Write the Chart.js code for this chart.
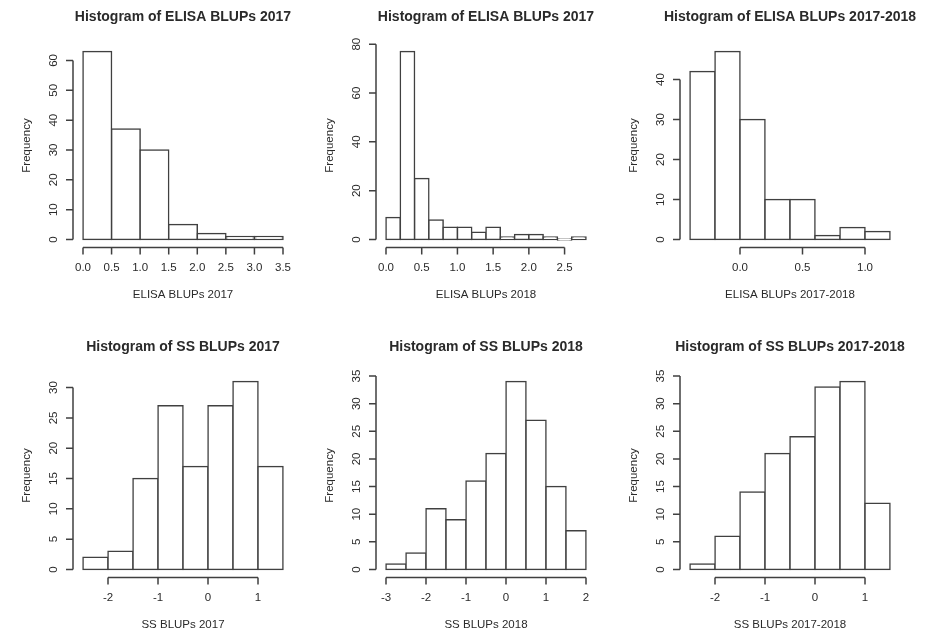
<!DOCTYPE html>
<html>
<head>
<meta charset="utf-8">
<script src="https://cdn.jsdelivr.net/npm/chart.js@4/dist/chart.umd.min.js"></script>
<style>
  body { margin: 0; background: #fff; overflow: hidden; }
  #wrap { position: relative; width: 927px; height: 634px; overflow: hidden; }
  #wrap canvas { position: absolute; }
</style>
</head>
<body>
<div id="wrap"></div>
<script>
// histogram bins (breaks) and counts
const elisa2017Breaks = [0, 0.5, 1, 1.5, 2, 2.5, 3, 3.5];
const elisa2017Counts = [63, 37, 30, 5, 2, 1, 1];
const elisa2017XTicks = ['0.0', '0.5', '1.0', '1.5', '2.0', '2.5', '3.0', '3.5'];
const elisa2017YTicks = ['0', '10', '20', '30', '40', '50', '60'];

const elisa2018Breaks = [0, 0.2, 0.4, 0.6, 0.8, 1, 1.2, 1.4, 1.6, 1.8, 2, 2.2, 2.4, 2.6, 2.8];
const elisa2018Counts = [9, 77, 25, 8, 5, 5, 3, 5, 1, 2, 2, 1, 0, 1];
const elisa2018XTicks = ['0.0', '0.5', '1.0', '1.5', '2.0', '2.5'];
const elisa2018YTicks = ['0', '20', '40', '60', '80'];

const elisaBothBreaks = [-0.4, -0.2, 0, 0.2, 0.4, 0.6, 0.8, 1, 1.2];
const elisaBothCounts = [42, 47, 30, 10, 10, 1, 3, 2];
const elisaBothXTicks = ['0.0', '0.5', '1.0'];
const elisaBothYTicks = ['0', '10', '20', '30', '40'];

const ss2017Breaks = [-2.5, -2, -1.5, -1, -0.5, 0, 0.5, 1, 1.5];
const ss2017Counts = [2, 3, 15, 27, 17, 27, 31, 17];
const ss2017XTicks = ['-2', '-1', '0', '1'];
const ss2017YTicks = ['0', '5', '10', '15', '20', '25', '30'];

const ss2018Breaks = [-3, -2.5, -2, -1.5, -1, -0.5, 0, 0.5, 1, 1.5, 2];
const ss2018Counts = [1, 3, 11, 9, 16, 21, 34, 27, 15, 7];
const ss2018XTicks = ['-3', '-2', '-1', '0', '1', '2'];
const ss2018YTicks = ['0', '5', '10', '15', '20', '25', '30', '35'];

const ssBothBreaks = [-2.5, -2, -1.5, -1, -0.5, 0, 0.5, 1, 1.5];
const ssBothCounts = [1, 6, 14, 21, 24, 33, 34, 12];
const ssBothXTicks = ['-2', '-1', '0', '1'];
const ssBothYTicks = ['0', '5', '10', '15', '20', '25', '30', '35'];

const panels = [
  { title: 'Histogram of ELISA BLUPs 2017', xlab: 'ELISA BLUPs 2017', breaks: elisa2017Breaks, counts: elisa2017Counts, xTicks: elisa2017XTicks, yTicks: elisa2017YTicks, left: 75, top: 44 },
  { title: 'Histogram of ELISA BLUPs 2017', xlab: 'ELISA BLUPs 2018', breaks: elisa2018Breaks, counts: elisa2018Counts, xTicks: elisa2018XTicks, yTicks: elisa2018YTicks, left: 378, top: 44 },
  { title: 'Histogram of ELISA BLUPs 2017-2018', xlab: 'ELISA BLUPs 2017-2018', breaks: elisaBothBreaks, counts: elisaBothCounts, xTicks: elisaBothXTicks, yTicks: elisaBothYTicks, left: 682, top: 44 },
  { title: 'Histogram of SS BLUPs 2017', xlab: 'SS BLUPs 2017', breaks: ss2017Breaks, counts: ss2017Counts, xTicks: ss2017XTicks, yTicks: ss2017YTicks, left: 75, top: 374 },
  { title: 'Histogram of SS BLUPs 2018', xlab: 'SS BLUPs 2018', breaks: ss2018Breaks, counts: ss2018Counts, xTicks: ss2018XTicks, yTicks: ss2018YTicks, left: 378, top: 374 },
  { title: 'Histogram of SS BLUPs 2017-2018', xlab: 'SS BLUPs 2017-2018', breaks: ssBothBreaks, counts: ssBothCounts, xTicks: ssBothXTicks, yTicks: ssBothYTicks, left: 682, top: 374 }
];

const PLOT_W = 216, PLOT_H = 203;
const PAD = { left: 75, right: 45, top: 44, bottom: 70 };
const FONT = '"Liberation Sans", Arial, sans-serif';
const INK = '#404040';

// base-graphics style axes: line only spans the tick range, ticks point outward
const rAxes = {
  id: 'rAxes',
  afterDraw(chart, args, opts) {
    const { ctx, chartArea: a, scales: { x, y } } = chart;
    ctx.save();
    ctx.strokeStyle = INK;
    ctx.fillStyle = '#2a2a2a';
    ctx.lineWidth = 1.5;

    const by = a.bottom + 0.5;
    const xs = opts.xTicks.map(t => x.getPixelForValue(parseFloat(t)));
    ctx.beginPath();
    ctx.moveTo(xs[0], by);
    ctx.lineTo(xs[xs.length - 1], by);
    xs.forEach(px => { ctx.moveTo(px, by); ctx.lineTo(px, by + 7); });
    ctx.stroke();

    const lx = a.left - 2;
    const ys = opts.yTicks.map(t => y.getPixelForValue(parseFloat(t)));
    ctx.beginPath();
    ctx.moveTo(lx, ys[0]);
    ctx.lineTo(lx, ys[ys.length - 1]);
    ys.forEach(py => { ctx.moveTo(lx, py); ctx.lineTo(lx - 7, py); });
    ctx.stroke();

    ctx.font = '11.5px ' + FONT;
    ctx.textAlign = 'center';
    ctx.textBaseline = 'middle';
    opts.xTicks.forEach((t, i) => ctx.fillText(t, xs[i], a.bottom + 21));
    opts.yTicks.forEach((t, i) => {
      ctx.save();
      ctx.translate(a.left - 21, ys[i]);
      ctx.rotate(-Math.PI / 2);
      ctx.fillText(t, 0, 0);
      ctx.restore();
    });

    ctx.fillText(opts.xlab, (a.left + a.right) / 2, a.bottom + 48);
    ctx.save();
    ctx.translate(a.left - 48, (a.top + a.bottom) / 2);
    ctx.rotate(-Math.PI / 2);
    ctx.fillText('Frequency', 0, 0);
    ctx.restore();

    ctx.font = 'bold 14px ' + FONT;
    ctx.fillText(opts.title, (a.left + a.right) / 2, a.top - 27);
    ctx.restore();
  }
};

const wrap = document.getElementById('wrap');

panels.forEach(p => {
  const canvas = document.createElement('canvas');
  canvas.width = PAD.left + PLOT_W + PAD.right;
  canvas.height = PAD.top + PLOT_H + PAD.bottom;
  canvas.style.left = (p.left - PAD.left) + 'px';
  canvas.style.top = (p.top - PAD.top) + 'px';
  wrap.appendChild(canvas);

  const lo = p.breaks[0], hi = p.breaks[p.breaks.length - 1];
  const ymax = Math.max(...p.counts);
  const mids = p.counts.map((c, i) => ({ x: (p.breaks[i] + p.breaks[i + 1]) / 2, y: c }));

  new Chart(canvas, {
    type: 'bar',
    data: {
      datasets: [{
        data: mids,
        backgroundColor: '#ffffff',
        borderColor: INK,
        borderWidth: 1.5,
        borderSkipped: false,
        inflateAmount: 0.75,
        minBarLength: 1,
        barPercentage: 1,
        categoryPercentage: 1
      }]
    },
    options: {
      responsive: false,
      animation: false,
      layout: { padding: PAD },
      plugins: {
        legend: { display: false },
        tooltip: { enabled: false },
        rAxes: { title: p.title, xlab: p.xlab, xTicks: p.xTicks, yTicks: p.yTicks }
      },
      scales: {
        x: { type: 'linear', offset: false, display: false, min: lo - 0.04 * (hi - lo), max: hi + 0.04 * (hi - lo) },
        y: { display: false, min: -0.04 * ymax, max: 1.04 * ymax }
      }
    },
    plugins: [rAxes]
  });
});
</script>
</body>
</html>
